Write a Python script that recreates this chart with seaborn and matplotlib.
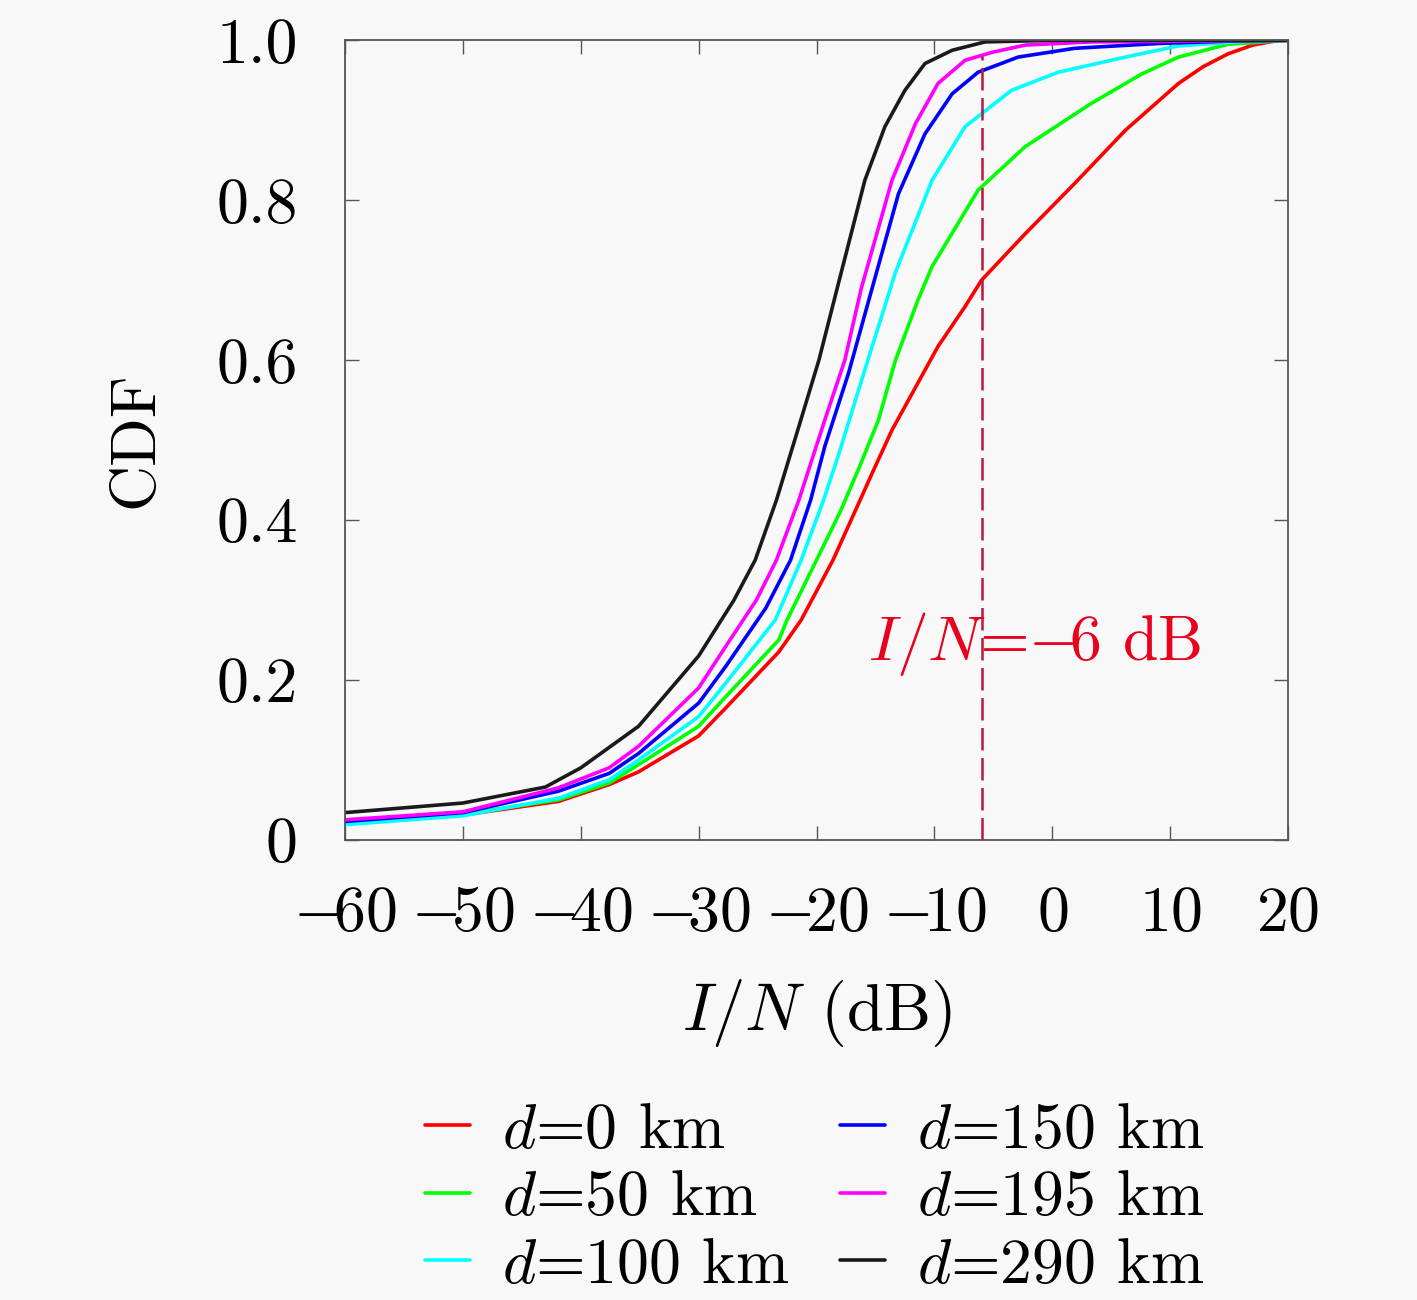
import matplotlib
matplotlib.use("Agg")
import matplotlib.pyplot as plt
import numpy as np
import pandas as pd
import seaborn as sns

sns.set_style("ticks", rc={"text.color": "black", "axes.labelcolor": "black",
                           "xtick.color": "black", "ytick.color": "black"})

plt.rcParams["font.family"] = ["cmr10", "DejaVu Serif"]
plt.rcParams["mathtext.fontset"] = "cm"
plt.rcParams["axes.formatter.use_mathtext"] = True
plt.rcParams["axes.unicode_minus"] = False

# CDF of I/N, one curve per distance
labels = ["$d$=0 km", "$d$=50 km", "$d$=100 km",
          "$d$=150 km", "$d$=195 km", "$d$=290 km"]
colors = ["#ff0000", "#00ff00", "#00ffff", "#0000ff", "#ff00ff", "#1a1a1a"]

x_d0 = [-60, -50, -41.9, -37.6, -35.1, -30, -27.7, -23.2, -21.3, -18.6, -16.3,
        -15.3, -13.6, -11.9, -9.7, -7.4, -6.0, -2.3, 1.9, 6.2, 10.7, 12.8,
        14.9, 17, 19.2, 20]
cdf_d0 = [0.021, 0.031, 0.048, 0.069, 0.085, 0.13, 0.165, 0.235, 0.275, 0.35,
          0.425, 0.458, 0.5125, 0.558, 0.617, 0.667, 0.70, 0.758, 0.821,
          0.8875, 0.946, 0.967, 0.983, 0.994, 1.0, 1.0]

x_d50 = [-60, -50, -41.9, -37.6, -35.1, -30, -27.7, -23.2, -22.5, -20.0, -18.0,
         -16.4, -14.75, -13.3, -11.4, -10.2, -6.3, -2.3, 3.3, 7.6, 10.7, 14.9,
         20]
cdf_d50 = [0.021, 0.032, 0.05, 0.071, 0.094, 0.142, 0.179, 0.25, 0.275, 0.35,
           0.41, 0.465, 0.525, 0.60, 0.675, 0.717, 0.8125, 0.867, 0.921, 0.958,
           0.979, 0.995, 1.0]

x_d100 = [-60, -50, -41.9, -37.6, -35.1, -30, -27.7, -23.5, -21.3, -19.4, -18.1,
          -15.9, -13.3, -10.2, -7.4, -3.45, 0.5, 6.2, 10.7, 16.5, 20]
cdf_d100 = [0.019, 0.03, 0.052, 0.075, 0.10, 0.154, 0.196, 0.275, 0.35, 0.425,
            0.483, 0.588, 0.71, 0.825, 0.892, 0.9375, 0.96, 0.979, 0.993,
            0.999, 1.0]

x_d150 = [-60, -50, -41.9, -37.6, -35.1, -30, -27.7, -24.3, -22.2, -20.5,
          -19.3, -17.3, -15.0, -13.05, -10.8, -8.5, -6.3, -2.9, 1.9, 9.0, 15,
          20]
cdf_d150 = [0.023, 0.034, 0.0608, 0.083, 0.108, 0.171, 0.217, 0.29, 0.35,
            0.425, 0.492, 0.583, 0.705, 0.808, 0.883, 0.933, 0.96, 0.979,
            0.99, 0.996, 0.999, 1.0]

x_d195 = [-60, -50, -41.9, -37.6, -35.1, -30, -27.7, -25.1, -23.4, -21.5, -19.3,
          -17.6, -16.2, -13.6, -11.6, -9.7, -7.4, -5.1, -2.3, 3.3, 20]
cdf_d195 = [0.025, 0.035, 0.065, 0.09, 0.117, 0.19, 0.242, 0.30, 0.35, 0.425,
            0.525, 0.60, 0.69, 0.825, 0.896, 0.946, 0.975, 0.985, 0.994,
            0.998, 1.0]

x_d290 = [-60, -50, -43, -40, -35.1, -30, -27, -25.2, -23.4, -21.5, -19.8,
          -17.9, -15.9, -14.2, -12.5, -10.8, -8.5, -5.7, 0, 20]
cdf_d290 = [0.034, 0.046, 0.066, 0.09, 0.142, 0.23, 0.30, 0.35, 0.425, 0.517,
            0.60, 0.71, 0.825, 0.892, 0.9375, 0.971, 0.9875, 0.998, 1.0, 1.0]

xs = [x_d0, x_d50, x_d100, x_d150, x_d195, x_d290]
ys = [cdf_d0, cdf_d50, cdf_d100, cdf_d150, cdf_d195, cdf_d290]

threshold = -6
xticks = [-60, -50, -40, -30, -20, -10, 0, 10, 20]
yticks = [0, 0.2, 0.4, 0.6, 0.8, 1.0]
ytick_labels = ["0", "0.2", "0.4", "0.6", "0.8", "1.0"]

df = pd.concat([pd.DataFrame({"x": x, "cdf": y, "d": lab})
                for x, y, lab in zip(xs, ys, labels)], ignore_index=True)

FS = 46
bg = "#f8f8f8"

fig = plt.figure(figsize=(14.17, 13), dpi=100, facecolor=bg)
ax = fig.add_axes([0.2435, 0.354, 0.6655, 0.615])
ax.set_facecolor(bg)

sns.lineplot(data=df, x="x", y="cdf", hue="d", hue_order=labels,
             palette=colors, linewidth=2.6, ax=ax)
for ln in ax.get_lines():
    ln.set_solid_joinstyle("round")

ax.plot([threshold, threshold], [0, 0.98], color="#b8183c", linewidth=1.8,
        dashes=(9, 3))
ax.text(-15.6, 0.225, r"$I/N$=$-\!$6 dB", color="#e8001c", fontsize=FS,
        ha="left", va="baseline")

ax.set_xlim(-60, 20)
ax.set_ylim(0, 1)
ax.set_xticks(xticks)
ax.set_xticklabels([rf"$-\!{-v}$" if v < 0 else f"${v}$" for v in xticks])
ax.set_yticks(yticks)
ax.set_yticklabels(ytick_labels)
ax.tick_params(direction="in", length=10, width=1, color="#555555",
               labelcolor="black", labelsize=FS, top=True, right=True)
ax.tick_params(axis="x", pad=33)
ax.tick_params(axis="y", pad=34)
for sp in ax.spines.values():
    sp.set_color("#555555")
    sp.set_linewidth(1.3)

ax.set_xlabel("$I/N$ (dB)", fontsize=FS + 2, labelpad=24)
ax.set_ylabel("CDF", fontsize=FS, labelpad=37)

ax.legend(loc="upper center", bbox_to_anchor=(0.575, 0.1715),
          bbox_transform=fig.transFigure, ncol=2, frameon=False,
          fontsize=FS, handlelength=0.7, handletextpad=0.5,
          columnspacing=0.8, labelspacing=0.15, borderaxespad=0)

fig.savefig("out.png", dpi=100, facecolor=bg)
